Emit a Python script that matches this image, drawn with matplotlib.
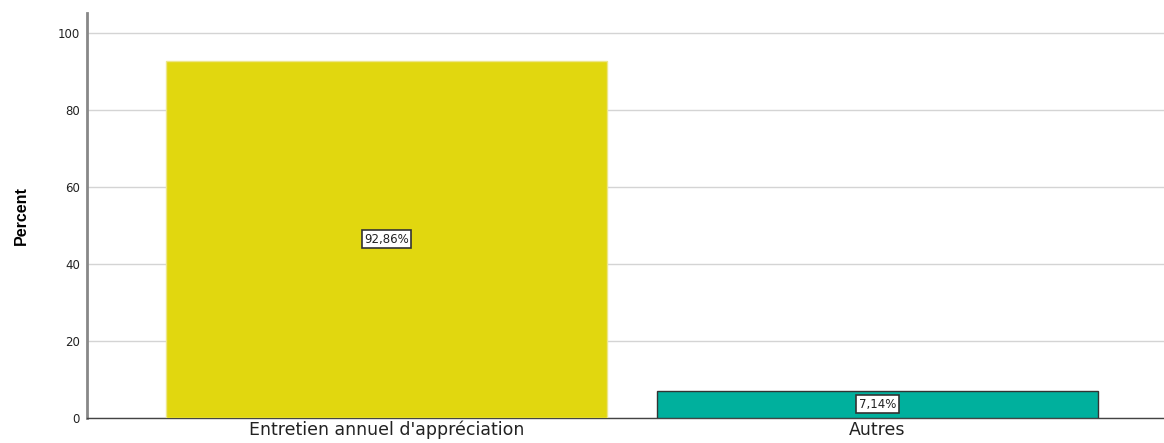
import matplotlib
matplotlib.use("Agg")
import matplotlib.pyplot as plt

categories = ["Entretien annuel d'appr\u00e9ciation", "Autres"]
percents = [92.86, 7.14]
labels = ["92,86%", "7,14%"]
colors = ["#E1D70F", "#00B09D"]
edges = ["#EDE68A", "#333333"]
yticks = [0, 20, 40, 60, 80, 100]

plt.rcParams["font.family"] = ["DejaVu Sans"]

W, H = 1164, 443
fig = plt.figure(figsize=(W / 100, H / 100), dpi=100)
ax = fig.add_axes([87 / W, 25 / H, (W - 87) / W, 405 / H])

x = range(len(categories))
ax.bar(x, percents, width=0.898, color=colors, edgecolor=edges, linewidth=1.0, zorder=3)

for xi, p, lab in zip(x, percents, labels):
    ax.text(xi, p / 2, lab, ha="center", va="center", fontsize=8.5, color="#222222",
            bbox=dict(boxstyle="square,pad=0.22", facecolor="white", edgecolor="#333333", linewidth=1.2),
            zorder=5)

ax.set_xlim(-0.61, 1.5835)
ax.set_ylim(0, 105.2)
ax.set_yticks(yticks)
ax.set_yticklabels([str(t) for t in yticks], fontsize=8.5, color="#222222")
ax.set_xticks(list(x))
ax.set_xticklabels(categories, fontsize=12.5, color="#222222")
ax.tick_params(axis="x", length=0, pad=2)
ax.tick_params(axis="y", length=0, pad=5)

ax.grid(axis="y", color="#D4D4D4", linewidth=1.0, zorder=0)
ax.set_axisbelow(True)

for s in ["top", "right"]:
    ax.spines[s].set_visible(False)
ax.spines["left"].set_color("#888888")
ax.spines["left"].set_linewidth(2)
ax.spines["bottom"].set_color("#444444")
ax.spines["bottom"].set_linewidth(1)

ax.set_ylabel("Percent", fontsize=11.5, fontweight="bold", labelpad=0,
              fontfamily=["Liberation Sans", "DejaVu Sans"])
ax.yaxis.set_label_coords(-58 / (W - 87), 0.5)

fig.savefig("out.png", dpi=100, facecolor="white")
